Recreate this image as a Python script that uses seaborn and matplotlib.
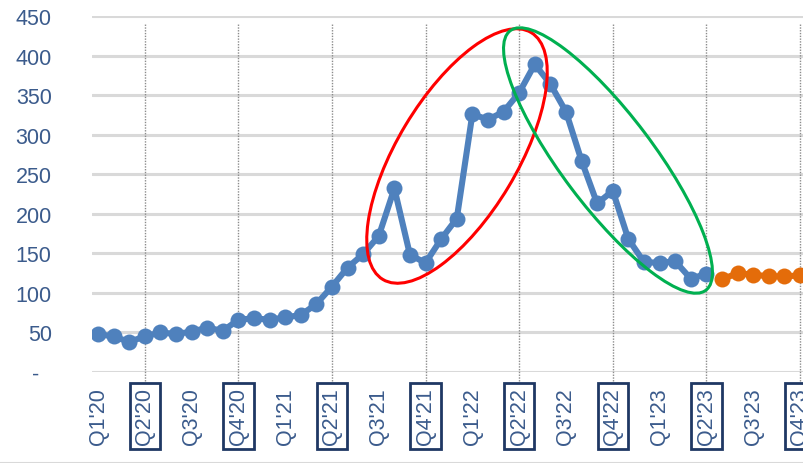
import matplotlib
matplotlib.use("Agg")
import matplotlib.pyplot as plt
import matplotlib.transforms as mtransforms
from matplotlib.patches import Ellipse
from matplotlib.lines import Line2D
import seaborn as sns
import pandas as pd

# ---- data ----
quarter_labels = ["Q1'20", "Q2'20", "Q3'20", "Q4'20", "Q1'21", "Q2'21", "Q3'21", "Q4'21",
                  "Q1'22", "Q2'22", "Q3'22", "Q4'22", "Q1'23", "Q2'23", "Q3'23", "Q4'23"]
boxed_labels = ["Q2'20", "Q4'20", "Q2'21", "Q4'21", "Q2'22", "Q4'22", "Q2'23", "Q4'23"]
actual_values = [48, 45, 38, 45, 50, 48, 51, 56, 52, 66, 68, 66, 69, 72, 86, 108, 132, 149,
                 172, 232, 148, 138, 168, 194, 326, 319, 329, 353, 389, 364, 329, 267, 213,
                 229, 168, 139, 138, 140, 118, 124]
forecast_values = [117, 125, 123, 121, 121, 122]
y_ticks = [0, 50, 100, 150, 200, 250, 300, 350, 400, 450]
y_tick_labels = ["-  ", "50", "100", "150", "200", "250", "300", "350", "400", "450"]

n_act = len(actual_values)
df_act = pd.DataFrame({"idx": list(range(n_act)), "val": actual_values})
df_fc = pd.DataFrame({"idx": list(range(n_act, n_act + len(forecast_values))), "val": forecast_values})

sns.set_style("white")
plt.rcParams["font.family"] = ["Liberation Sans", "DejaVu Sans"]

BLUE = "#4F81BD"
ORANGE = "#E46C0A"
TXT = "#3B5B8C"
GRID = "#D9D9D9"
NAVY = "#1F3864"

fig = plt.figure(figsize=(8.04, 4.64), dpi=100)
ax = fig.add_axes([92 / 804, (464 - 373) / 464, (804 - 92) / 804, (373 - 17) / 464])

# horizontal grid
for yv in y_ticks:
    ax.axhline(yv, color=GRID, lw=2.2, zorder=0)

# dotted vertical lines at boxed quarters
tick_pos = [i * 3 for i in range(len(quarter_labels))]
for pos, lab in zip(tick_pos, quarter_labels):
    if lab in boxed_labels:
        ax.vlines(pos, -12, 441, colors="#8C8C8C", linestyles=(0, (1, 1)), lw=1.0,
                  clip_on=False, zorder=1)

sns.lineplot(data=df_act, x="idx", y="val", ax=ax, color=BLUE, lw=4.4, marker="o",
             markersize=11.5, markeredgecolor=BLUE, markeredgewidth=0, zorder=3)
sns.lineplot(data=df_fc, x="idx", y="val", ax=ax, color=ORANGE, lw=4.4, marker="o",
             markersize=11.5, markeredgecolor=ORANGE, markeredgewidth=0, zorder=3)

ax.set_xlim(-0.385, 45.26)
ax.set_ylim(0, 450)
ax.set_xlabel("")
ax.set_ylabel("")
for s in ax.spines.values():
    s.set_visible(False)

ax.set_yticks(y_ticks)
ax.set_yticklabels(y_tick_labels)
ax.set_xticks(tick_pos)
ax.set_xticklabels(quarter_labels, rotation=90)
ax.tick_params(axis="y", length=0, pad=29, labelsize=15.5, labelcolor=TXT)
ax.tick_params(axis="x", length=0, pad=11, labelsize=15.5, labelcolor=TXT)
for t in ax.get_xticklabels():
    t.set_va("top")
    if t.get_text() in boxed_labels:
        t.set_bbox(dict(boxstyle="square,pad=0.22", fc="none", ec=NAVY, lw=2))

# annotation ellipses (pixel space)
ident = mtransforms.IdentityTransform()
fig.patches.append(Ellipse((457, 464 - 157), 288, 120, angle=59, fill=False,
                           ec="#FF0000", lw=2.2, transform=ident, figure=fig, zorder=5))
fig.patches.append(Ellipse((608, 464 - 161.5), 325, 92, angle=-53, fill=False,
                           ec="#00B050", lw=2.2, transform=ident, figure=fig, zorder=5))

# bottom border line
fig.lines.append(Line2D([0, 1], [0.5 / 464, 0.5 / 464], transform=fig.transFigure,
                        color=GRID, lw=1.5))

fig.savefig("out.png", dpi=100)
